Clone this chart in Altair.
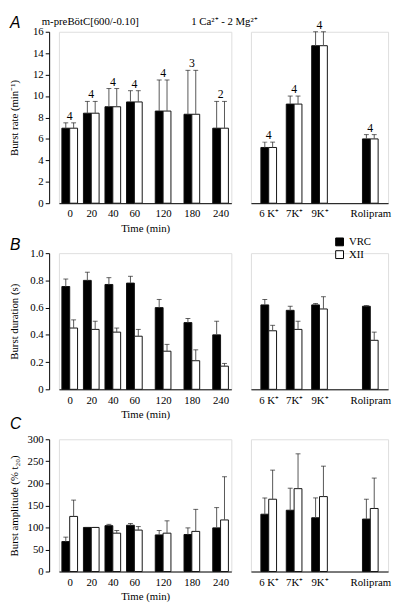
import altair as alt
import pandas as pd

# ---------------- data ----------------
times = [0, 20, 40, 60, 120, 180, 240]
treatments = ["6 K⁺", "7K⁺", "9K⁺", "Rolipram"]
series_names = ["VRC", "XII"]

# A: burst rate (min^-1); VRC and XII rates are identical
rate_time_mean = [7.0, 8.4, 9.0, 9.45, 8.6, 8.3, 7.0]
rate_time_top = [7.5, 9.5, 10.7, 10.5, 11.5, 12.4, 9.5]
rate_time_n = [4, 4, 4, 4, 4, 3, 2]
rate_treat_mean = [5.2, 9.25, 14.7, 6.0]
rate_treat_top = [5.7, 10.0, 16.0, 6.4]
rate_treat_n = [4, 4, 4, 4]

# B: burst duration (s)
dur_time_vrc = [0.755, 0.80, 0.77, 0.78, 0.60, 0.49, 0.40]
dur_time_vrc_top = [0.81, 0.86, 0.82, 0.83, 0.66, 0.52, 0.50]
dur_time_xii = [0.45, 0.44, 0.42, 0.39, 0.28, 0.21, 0.17]
dur_time_xii_top = [0.51, 0.50, 0.45, 0.44, 0.33, 0.29, 0.19]
dur_treat_vrc = [0.62, 0.58, 0.62, 0.61]
dur_treat_vrc_top = [0.66, 0.61, 0.63, 0.615]
dur_treat_xii = [0.43, 0.44, 0.59, 0.36]
dur_treat_xii_top = [0.47, 0.50, 0.68, 0.42]

# C: burst amplitude (% t20)
amp_time_vrc = [68, 100, 104, 105, 83, 84, 99]
amp_time_vrc_top = [78, 100, 107, 109, 93, 99, 145]
amp_time_xii = [125, 100, 87, 94, 87, 91, 117]
amp_time_xii_top = [162, 100, 93, 102, 115, 141, 215]
amp_treat_vrc = [130, 139, 122, 119]
amp_treat_vrc_top = [167, 189, 167, 164]
amp_treat_xii = [164, 188, 170, 143]
amp_treat_xii_top = [230, 267, 239, 212]

SERIF = "Liberation Serif"
TIME_W, TREAT_W = 176, 140
H_A, H_B, H_C = 175, 139, 135


def make_df(conds, vrc, vrc_top, xii, xii_top, n=None):
    rows = []
    for i, c in enumerate(conds):
        nn = n[i] if n is not None else None
        rows.append(dict(cond=c, series="VRC", mean=vrc[i], top=vrc_top[i], n=nn))
        rows.append(dict(cond=c, series="XII", mean=xii[i], top=xii_top[i], n=nn))
    return pd.DataFrame(rows)


time_x = alt.X(
    "cond:Q",
    scale=alt.Scale(domain=[-30, 0, 60, 240, 270], range=[0, 11, 77, 165, TIME_W],
                    nice=False, zero=False),
    axis=alt.Axis(values=times, ticks=False, labelPadding=5, title="Time (min)",
                  titlePadding=4, format="d", labelFlush=False),
)
treat_x = alt.X(
    "cond:N",
    scale=alt.Scale(type="point", domain=[treatments[0], treatments[1], treatments[2], " ", treatments[3]],
                    padding=0.7),
    axis=alt.Axis(ticks=False, labelPadding=5, title=None, labelAngle=0),
)


def annotation(text, x, y, size=11, font=SERIF, align="center", style="normal"):
    return alt.Chart(pd.DataFrame({"k": [0]})).mark_text(
        align=align, baseline="middle", fontSize=size, font=font, fontStyle=style, color="black"
    ).encode(x=alt.value(x), y=alt.value(y), text=alt.value(text))


def panel(df, x, ydom, yvals=None, ytitle=None, label_expr=None, width=TIME_W, height=150,
          with_n=False, legend=False, extras=()):
    yscale = alt.Scale(domain=ydom, nice=False, zero=True)
    if yvals is not None:
        ax = dict(values=yvals, title=ytitle, offset=10, tickSize=4, labelPadding=2,
                  titleX=-35, titleBaseline="middle", titleAngle=270)
        if label_expr:
            ax["labelExpr"] = label_expr
        yaxis = alt.Axis(**ax)
    else:
        yaxis = None

    def Y(field):
        if yaxis is None:
            return alt.Y(field, scale=yscale, axis=None, stack=None)
        return alt.Y(field, scale=yscale, axis=yaxis, stack=None)

    base = alt.Chart(df)
    layers = []
    for s, off, col in [("VRC", -4, "black"), ("XII", 4, "white")]:
        sub = base.transform_filter(alt.datum.series == s)
        if legend:
            fill = alt.Fill(
                "series:N",
                scale=alt.Scale(domain=series_names, range=["black", "white"]),
                legend=alt.Legend(orient="none", legendX=85, legendY=-17, title=None,
                                  symbolType="square", symbolSize=64, symbolStrokeColor="black",
                                  symbolStrokeWidth=1, labelFontSize=11, labelFont=SERIF,
                                  rowPadding=0, padding=0, labelOffset=4),
            )
        else:
            fill = alt.value(col)
        layers.append(sub.mark_bar(orient="vertical", width=8, xOffset=off, stroke="#111",
                                   strokeWidth=1).encode(x=x, y=Y("mean:Q"), fill=fill))
        layers.append(sub.mark_rule(xOffset=off, color="#555", strokeWidth=1).encode(
            x=x, y=Y("mean:Q"), y2="top:Q"))
        layers.append(sub.mark_tick(orient="horizontal", size=5, thickness=1, xOffset=off,
                                    color="#222").encode(x=x, y=Y("top:Q")))
    if with_n:
        layers.append(base.transform_filter(alt.datum.series == "VRC").mark_text(
            baseline="middle", dy=-7, fontSize=12, font=SERIF, color="black"
        ).encode(x=x, y=Y("top:Q"), text="n:Q"))
    layers.extend(extras)
    return alt.layer(*layers).properties(width=width, height=height)


# ---------------- row A ----------------
dfA_t = make_df(times, rate_time_mean, rate_time_top, rate_time_mean, rate_time_top, rate_time_n)
dfA_r = make_df(treatments, rate_treat_mean, rate_treat_top, rate_treat_mean, rate_treat_top, rate_treat_n)
A_time = panel(dfA_t, time_x, [0, 16], list(range(0, 17, 2)), "Burst rate (min⁻¹)",
               height=H_A, with_n=True,
               extras=[annotation("A", -50, -9, size=16, font="Liberation Sans", align="left", style="italic"),
                       annotation("m-preBötC[600/-0.10]", 32, -10),
                       annotation("1 Ca²⁺ - 2 Mg²⁺", 169, -10)])
A_treat = panel(dfA_r, treat_x, [0, 16], width=TREAT_W, height=H_A, with_n=True)

# ---------------- row B ----------------
dfB_t = make_df(times, dur_time_vrc, dur_time_vrc_top, dur_time_xii, dur_time_xii_top)
dfB_r = make_df(treatments, dur_treat_vrc, dur_treat_vrc_top, dur_treat_xii, dur_treat_xii_top)
B_time = panel(dfB_t, time_x, [0, 1], [0, 0.2, 0.4, 0.6, 0.8, 1.0], "Burst duration (s)",
               label_expr="datum.value == 0 ? '0' : format(datum.value, '.1f')", height=H_B,
               extras=[annotation("B", -50, -8, size=16, font="Liberation Sans", align="left", style="italic")])
B_treat = panel(dfB_r, treat_x, [0, 1], width=TREAT_W, height=H_B, legend=True)

# ---------------- row C ----------------
dfC_t = make_df(times, amp_time_vrc, amp_time_vrc_top, amp_time_xii, amp_time_xii_top)
dfC_r = make_df(treatments, amp_treat_vrc, amp_treat_vrc_top, amp_treat_xii, amp_treat_xii_top)
C_time = panel(dfC_t, time_x, [0, 300], list(range(0, 301, 50)), "Burst amplitude (% t₂₀)",
               height=H_C,
               extras=[annotation("C", -50, -16, size=16, font="Liberation Sans", align="left", style="italic")])
C_treat = panel(dfC_r, treat_x, [0, 300], width=TREAT_W, height=H_C)

chart = alt.concat(
    A_time, A_treat, B_time, B_treat, C_time, C_treat,
    columns=2, spacing={"row": 51, "column": 20}, bounds="flush", align="each",
).resolve_scale(fill="independent").properties(
    padding={"left": 0, "top": 0, "right": 0, "bottom": 0}
).configure_view(stroke=None).configure(font=SERIF).configure_axis(
    domainColor="black", tickColor="black", labelColor="black", titleColor="black", grid=False,
    titleFontWeight="normal", labelFont=SERIF, titleFont=SERIF, labelFontSize=11, titleFontSize=11,
    domainWidth=1, tickWidth=1,
)

chart.save("out.html", embed_options={"renderer": "svg", "actions": False})
